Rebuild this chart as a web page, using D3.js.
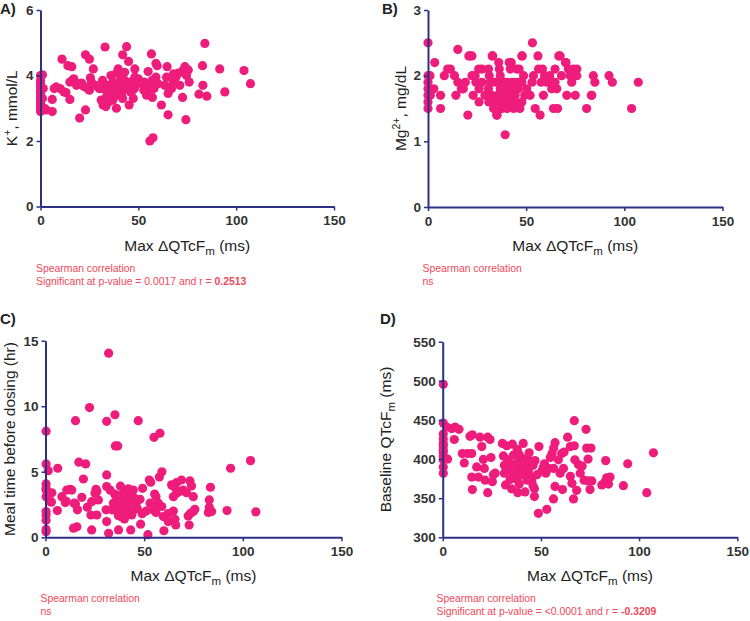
<!DOCTYPE html>
<html><head><meta charset="utf-8">
<script src="https://cdn.jsdelivr.net/npm/d3@7"></script>
<style>
html,body{margin:0;padding:0;background:#fff;}
svg{display:block;font-family:"Liberation Sans",Arial,Helvetica,sans-serif;}
</style></head>
<body>
<svg id="chart" width="750" height="621"></svg>
<script>
// ---------- DATA ----------
const xTicks = [0, 50, 100, 150];

// Panel A: Max ΔQTcFm (ms) vs K+ (mmol/L)
const potassium = [[0,4.0],[1,4.02],[0,3.85],[0,3.75],[0,3.65],[0,3.55],[0,3.45],[0,3.35],[0,3.25],[0,3.15],[0,3.05],[0,2.95],[0,2.9],[1.4,3.6],[1,3.3],[2,3.0],[3,2.95],[6,2.9],[6,3.27],[8,3.65],[10,3.6],[11,4.5],[13,3.48],[14,4.3],[15,3.27],[16,4.27],[15,3.8],[16.3,3.85],[18.4,3.7],[20,2.7],[21,3.77],[22,3.67],[23,2.95],[23,4.63],[25,4.5],[25,3.55],[25.5,3.93],[27,4.2],[33,4.87],[31.7,3.85],[31.7,3.6],[31,3.25],[32,3.1],[33.4,3.05],[33.7,3.35],[34.5,3.45],[35.5,3.55],[36.8,3.4],[37,3.25],[38,3.65],[38.8,3.0],[38.8,4.07],[39.7,4.2],[40.5,3.75],[41.4,3.45],[42.3,3.6],[42,4.63],[43,3.85],[44,4.88],[45,4.43],[45.3,3.1],[46,3.8],[47.4,3.3],[48.2,4.2],[48.2,3.95],[49,3.75],[47,3.55],[51.6,3.75],[52.8,3.55],[54.2,3.4],[55,4.12],[55.9,3.6],[56.7,3.7],[57.2,3.33],[56.7,4.66],[55.9,2.0],[57.5,2.1],[57.9,3.8],[59,3.95],[59,4.37],[59.6,4.3],[61.8,3.1],[63.5,3.7],[64.7,4.27],[65.2,2.8],[64.4,3.95],[65.2,3.45],[66,3.63],[67.8,3.8],[69.2,3.95],[70.4,4.07],[71.2,3.7],[72.6,3.33],[73,4.17],[73.8,4.27],[74.3,2.65],[74.6,4.0],[75.5,4.17],[76,3.8],[81,3.43],[82.8,4.3],[83,3.7],[84,4.98],[85,3.37],[91.6,4.2],[94.2,3.5],[104,4.15],[107.3,3.75],[34,3.7],[35,3.2],[36,3.5],[37,3.8],[39,3.4],[40,3.6],[41,3.9],[42,3.3],[44,3.6],[45,3.7],[46,3.5],[48,3.6],[50,3.9],[53,3.8],[54,3.65],[57,3.85],[58,3.6],[60,3.75],[67,3.6],[68,4.05],[30,3.6],[28,3.7],[36,4.0],[43,4.1],[26,3.8],[17,3.9],[19,3.75],[24,3.6],[12,3.5],[7,3.6]];

// Panel B: Max ΔQTcFm (ms) vs Mg2+ (mg/dL)
const magnesium = [[0,2.5],[0,2.0],[0,1.9],[0,1.8],[0,1.7],[0,1.6],[0,1.5],[1,2.0],[1.2,1.7],[3.4,2.2],[6.4,1.5],[6.4,1.7],[8.3,2.0],[10,2.1],[11.4,2.1],[13.5,2.0],[14.2,1.7],[15.2,2.4],[15.2,1.9],[17,1.8],[18,1.8],[19,1.9],[20.3,1.4],[21.5,2.3],[22.4,2.3],[22.4,2.0],[23,1.7],[24,2.0],[24.4,1.9],[25.8,2.1],[26,1.6],[26,1.8],[27.5,1.9],[27.5,2.1],[30.8,2.1],[31.2,2.0],[30.8,1.8],[31,1.6],[31.7,1.9],[33,2.3],[32.5,1.7],[33.4,1.5],[35,1.4],[35,1.6],[35.6,1.7],[36,2.2],[36.3,2.1],[36.8,1.9],[36.8,1.8],[36.8,2.0],[37.6,1.7],[37.6,1.6],[37.6,1.5],[38.5,1.8],[38.5,1.9],[39.3,1.1],[40.2,1.9],[40.2,1.7],[40.2,1.5],[41.4,2.2],[41.9,2.1],[42.4,2.2],[41.9,1.8],[41.9,1.6],[42.7,1.9],[42.7,1.7],[43.6,1.8],[43.6,1.5],[44.4,1.9],[44.4,1.7],[44.4,1.6],[45.3,2.1],[46.4,2.1],[47.8,2.3],[46,1.9],[46,1.8],[46.8,1.5],[47.8,1.6],[47.8,1.9],[49.3,1.7],[50.3,1.8],[52,1.7],[53,1.9],[53.2,2.5],[53.7,2.0],[54.6,1.5],[56,2.3],[56.3,2.1],[57.1,1.4],[57.6,1.9],[58.3,2.1],[58.8,1.7],[59.3,2.0],[60.5,1.9],[62,2.0],[63,1.8],[63.9,1.5],[64.7,2.1],[64.7,1.9],[65.6,1.8],[66,1.5],[67.3,2.3],[68,2.0],[70,2.2],[70.7,1.7],[71.5,2.1],[72.4,2.0],[73.2,1.9],[74,2.1],[75,1.7],[75.8,2.1],[75.8,2.0],[80.8,1.5],[83.4,1.7],[84.2,2.0],[85,1.9],[92.2,2.0],[93.9,1.9],[103.7,1.5],[107.1,1.9],[39,1.6],[45,1.8],[48.7,2.0],[34,1.9],[29,1.7],[20.8,2.3],[32.7,2.3],[48,2.3],[66.6,2.3],[41.5,2.2],[70.3,2.2],[35.2,1.4],[83.2,1.7],[3,1.8]];

// Panel C: Max ΔQTcFm (ms) vs meal time before dosing (hr)
const mealTime = [[32,14.05],[22.3,9.9],[15.2,8.9],[31,8.85],[35.2,9.35],[47,8.9],[0.3,8.1],[35.4,6.97],[36.6,6.97],[55,7.63],[58,7.94],[0.3,5.6],[1.4,5.08],[6.2,5.27],[16.9,5.73],[20.4,5.6],[31,4.76],[19.2,4.45],[0.3,4.07],[0.3,3.75],[0.3,3.6],[3.2,3.4],[2.7,2.7],[8.3,3.1],[10.8,3.6],[12.5,3.66],[13.3,3.6],[10,2.65],[14.5,2.6],[16.2,2.1],[15.9,0.8],[18.4,3.05],[21.2,2.3],[23,1.7],[23.4,0.56],[25.1,3.36],[25.6,3.66],[26,1.7],[26.8,2.85],[31,3.87],[30.7,2.1],[32,0.3],[31,1.2],[32.7,3.6],[33.6,2.1],[34.4,2.6],[37,0.56],[35,3.3],[36,3.1],[37,2.85],[38,2.35],[39,1.85],[38,3.9],[37.6,3.2],[39,2.85],[40,2.45],[41,2.05],[37,1.65],[38.7,1.55],[41.8,3.2],[42.5,2.75],[43.7,1.7],[43.2,0.56],[44.5,3.6],[45.9,2.6],[46.5,2.2],[47.9,2.9],[48.2,1.0],[49.2,3.74],[51.9,0.2],[52.6,4.37],[53.3,4.2],[54.6,2.1],[55.3,3.3],[56,3.1],[57.2,2.6],[57.7,4.6],[59,5.0],[58.9,2.35],[59.7,1.58],[60,0.5],[62.2,1.2],[64.8,2.0],[65.6,1.37],[66,0.94],[63.9,4.0],[65,3.87],[66.4,4.17],[68.9,4.37],[64.8,3.1],[66.4,3.36],[68,3.5],[69.8,3.6],[71.5,3.4],[73.2,4.3],[74,3.92],[74.9,3.1],[72.8,0.94],[72.3,1.63],[73.5,1.83],[74.9,1.96],[75.7,2.14],[83,2.3],[83,2.85],[82.5,1.9],[84.2,1.96],[83.6,3.82],[92,2.04],[93.8,5.27],[103.9,5.85],[106.6,1.94],[0.3,3.1],[0.3,1.96],[0.3,1.7],[0.3,1.3],[0.3,0.6],[0.3,0.43],[3,2.7],[6,2.04],[10.5,2.75],[14.2,0.7],[15.2,2.55],[23.4,2.72],[26,3.5],[40,3.4],[42,2.3],[44,1.9],[36,2.0],[38,2.7],[45,3.0],[49,1.8],[51,2.0],[53,2.6],[56,1.9],[62,1.8],[40,1.4],[42,3.7]];

// Panel D: Max ΔQTcFm (ms) vs baseline QTcFm (ms)
const baselineQTcF = [[0.3,495.5],[0.3,446],[0.3,432],[0.3,425.5],[0.3,417],[0.3,409],[0.3,399],[0.3,390],[0.3,382],[0.3,420],[0.3,412],[0.3,404],[2,441],[2.5,400],[4.6,439],[6.3,441],[5.9,425],[8.3,438],[10,407],[11,395],[12.7,407],[14.8,407],[14.8,377],[15.1,361],[13.9,429],[15.1,431],[17.3,390],[18.2,377],[19,428],[19.9,416],[20.7,399.5],[21.2,388],[21.6,373],[22.9,357],[22.9,428],[24.1,425],[24.6,402],[25.3,371],[25.8,380],[26.7,382],[30.4,420],[30.9,404],[31.4,392],[31.4,382],[32,367],[32.6,417],[33.1,399],[33.4,386],[34.3,374],[35.1,362],[35.5,419],[36,405],[36.5,393],[37,383],[37.9,374],[38.2,357],[38.5,396],[38.8,406],[40.2,388],[40.5,380],[41,420],[41.9,399],[41.9,358],[42.5,390],[43,373],[43.6,385],[44.1,398],[44.5,378],[45.4,372],[46,366],[46.7,352],[46.7,362],[47,398],[49,416],[48.7,330.6],[50.5,385],[51.3,390],[53,335.7],[51.8,394],[52.5,382],[53.9,388],[54.8,402],[55.7,407],[56.5,414],[57.2,421],[56.5,388],[57.2,365],[56.4,349],[58.9,399],[59.8,382],[60.6,407],[61.5,388],[61.8,409],[61,361],[63.6,428],[65,416],[65,378],[65.8,369],[66.6,349],[67,449],[67,417],[67.3,399],[68.2,360],[69.1,393],[70,382],[71,391],[72,373],[73,438],[73.3,414],[74,400],[74.2,372],[75,361],[75.5,414],[75.9,372],[83,398],[81,367],[82.7,371],[83.5,376],[84.4,368],[85.2,377],[92,366],[94.2,394],[103.9,357],[107.3,408],[38,412],[40,402],[44,408],[46,392],[48,380],[39,368],[36,378],[34,395]];

const yTicksA = [0, 2, 4, 6];
const yTicksB = [0, 1, 2, 3];
const yTicksC = [0, 5, 10, 15];
const yTicksD = [300, 350, 400, 450, 500, 550];

// ---------- STYLE / LAYOUT ----------
const DOT = "#ee1c7b";
const AXIS = "#2d3184";
const TICKTXT = "#333333";
const NOTE = "#f0485a";

const svg = d3.select("#chart");

function panel(cfg){
  const g = svg.append("g");
  const x = d3.scaleLinear().domain([0,150]).range([cfg.x0, cfg.x1]);
  const y = d3.scaleLinear().domain(cfg.yDomain).range([cfg.yb, cfg.yt]);

  // points
  g.append("g").selectAll("circle").data(cfg.data).join("circle")
    .attr("cx", d => x(d[0])).attr("cy", d => y(d[1]))
    .attr("r", 4.6).attr("fill", DOT);

  // axes
  const fmt = d3.format("d");
  const ya = g.append("g").attr("transform", `translate(${cfg.x0},0)`)
    .call(d3.axisLeft(y).tickValues(cfg.yTicks).tickFormat(fmt).tickSize(4).tickSizeOuter(0).tickPadding(3));
  const xa = g.append("g").attr("transform", `translate(0,${cfg.yb})`)
    .call(d3.axisBottom(x).tickValues(xTicks).tickFormat(fmt).tickSize(4).tickSizeOuter(0).tickPadding(5));
  [ya, xa].forEach(a => {
    a.attr("font-size", null).attr("font-family", null);
    a.select(".domain").attr("stroke", AXIS).attr("stroke-width", 2);
    a.selectAll(".tick line").attr("stroke", AXIS).attr("stroke-width", 1.5);
    a.selectAll(".tick text").attr("fill", TICKTXT)
      .style("font-size", "13.5px").style("font-weight", "bold")
      .style("font-family", '"Liberation Sans",Arial,sans-serif');
  });

  // panel letter
  g.append("text").attr("x", cfg.lx).attr("y", cfg.ly).style("font-size", "15px")
    .style("font-weight", "bold").attr("fill", "#222").text(cfg.letter);

  // x title
  const xt = g.append("text").attr("x", (cfg.x0+cfg.x1)/2).attr("y", cfg.yb + 44)
    .attr("text-anchor", "middle").style("font-size", "15.5px").attr("fill", "#222");
  xt.append("tspan").text("Max \u0394QTcF");
  xt.append("tspan").style("font-size", "11.5px").attr("dy", 4).text("m");
  xt.append("tspan").attr("dy", -4).text(" (ms)");

  // y title
  const yt = g.append("text")
    .attr("transform", `translate(${cfg.ytx},${(cfg.yb+cfg.yt)/2}) rotate(-90)`)
    .attr("text-anchor", "middle").style("font-size", "15.5px").attr("fill", "#222");
  cfg.yTitle(yt);

  // annotation
  g.append("text").attr("x", cfg.nx).attr("y", cfg.yb + 65)
    .style("font-size", "10.4px").attr("fill", NOTE).text("Spearman correlation");
  const n2 = g.append("text").attr("x", cfg.nx).attr("y", cfg.yb + 78)
    .style("font-size", "10.4px").attr("fill", NOTE);
  n2.append("tspan").text(cfg.note);
  if (cfg.noteBold) n2.append("tspan").style("font-weight", "bold").text(cfg.noteBold);
}

panel({letter:"A)", lx:0, ly:14, x0:40.5, x1:334, yt:10, yb:206.5, yDomain:[0,6], yTicks:yTicksA,
  data:potassium, ytx:17, nx:36, note:"Significant at p-value = 0.0017 and r = ", noteBold:"0.2513",
  yTitle: t => { t.append("tspan").text("K"); t.append("tspan").style("font-size","10.5px").attr("dy",-6).text("+");
                 t.append("tspan").attr("dy",6).text(", mmol/L"); }});

panel({letter:"B)", lx:382, ly:14, x0:428, x1:722.5, yt:10, yb:207, yDomain:[0,3], yTicks:yTicksB,
  data:magnesium, ytx:406, nx:422.5, note:"ns", noteBold:null,
  yTitle: t => { t.append("tspan").text("Mg"); t.append("tspan").style("font-size","10.5px").attr("dy",-6).text("2+");
                 t.append("tspan").attr("dy",6).text(", mg/dL"); }});

panel({letter:"C)", lx:0, ly:324, x0:45.5, x1:341.5, yt:340.7, yb:537.3, yDomain:[0,15], yTicks:yTicksC,
  data:mealTime, ytx:15, nx:40.5, note:"ns", noteBold:null,
  yTitle: t => { t.text("Meal time before dosing (hr)"); }});

panel({letter:"D)", lx:380, ly:324, x0:442.7, x1:737.3, yt:341.7, yb:537.3, yDomain:[300,550], yTicks:yTicksD,
  data:baselineQTcF, ytx:391, nx:436.5, note:"Significant at p-value = <0.0001 and r = ", noteBold:"-0.3209",
  yTitle: t => { t.append("tspan").text("Baseline QTcF"); t.append("tspan").style("font-size","11.5px").attr("dy",4).text("m");
                 t.append("tspan").attr("dy",-4).text(" (ms)"); }});
</script>
</body></html>
